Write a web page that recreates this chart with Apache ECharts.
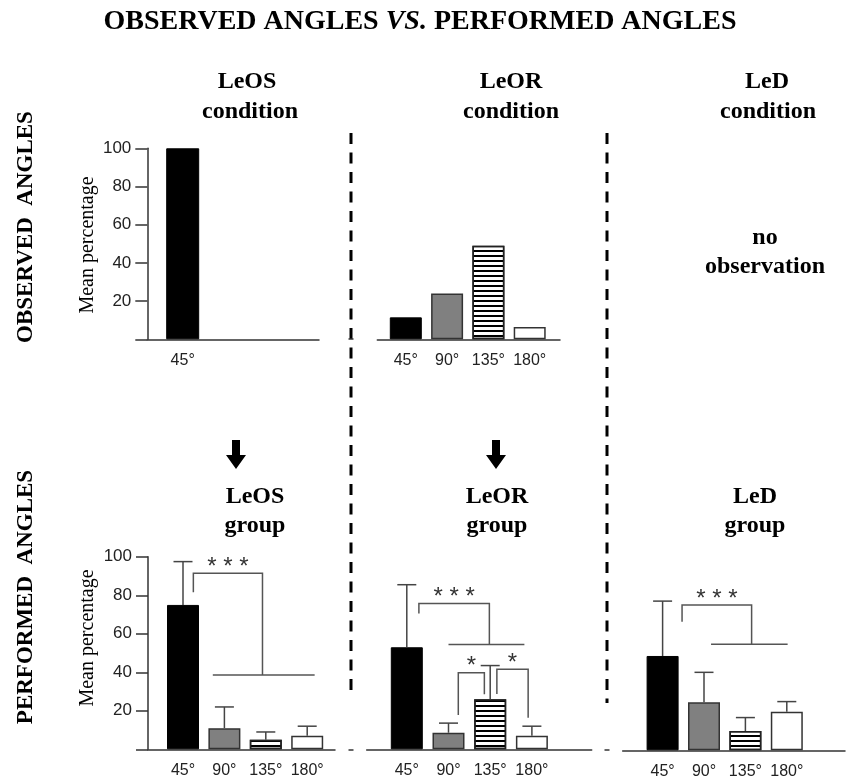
<!DOCTYPE html>
<html><head><meta charset="utf-8">
<script src="https://cdn.jsdelivr.net/npm/echarts@6/dist/echarts.min.js"></script>
<style>html,body{margin:0;padding:0;background:#fff}#c{width:846px;height:779px}</style>
</head><body><div id="c"></div><script>
// ---------- data ----------
const categories = ['45°', '90°', '135°', '180°'];
const yTickStep = 20;
// Observed angles (mean percentage)
const obsLeOS = [100];
const obsLeOR = [11.5, 24, 49, 6.5];
// Performed angles: mean percentage and SD
const perfLeOS = [75, 11, 5, 7];
const sdLeOS   = [22.5, 11, 4, 5];
const perfLeOR = [53, 8.6, 26, 7];
const sdLeOR   = [32.5, 5, 17.5, 5];
const perfLeD  = [49, 25, 10, 20];
const sdLeD    = [28.5, 15.5, 7, 5.3];
// Significance brackets: [leftLegX, leftLegBottom, rightLegX, rightLegBottom, top, spanFrom, spanTo, label]
const sigLeOS = [[0.25, 81.6, 1.92, 38.6, 91.4, 0.72, 3.18, '* * *']];
const sigLeOR = [[0.29, 70.6, 1.98, 54.5, 75.8, 1.0, 2.82, '* * *'],
                 [1.235, 17.8, 1.86, 28.6, 39.8, null, null, '*'],
                 [2.16, 28.7, 2.91, 16.4, 41.6, null, null, '*']];
const sigLeD  = [[0.47, 66.8, 2.15, 55.1, 75.5, 1.17, 3.02, '* * *']];

// ---------- styles / layout ----------
const SERIF = '"Liberation Serif", "Times New Roman", serif';
const SANS = '"Liberation Sans", Arial, sans-serif';
const barStyles = [
  {color: '#000', borderColor: '#000', borderWidth: 1},
  {color: '#808080', borderColor: '#333', borderWidth: 1.5},
  {color: '#fff', borderColor: '#222', borderWidth: 1.5,
   decal: {symbol: 'rect', symbolSize: 1, color: '#000', dashArrayX: [1, 0], dashArrayY: [2, 3], rotation: 0}},
  {color: '#fff', borderColor: '#333', borderWidth: 1.5}
];
const panels = [
  {left: 147.3, right: 319, top: 148.3, base: 339.3, c0: 182.7, unit: 41.4, showY: true, barW: 33, values: obsLeOS},
  {left: 377.3, right: 560, top: 148.3, base: 339.3, c0: 405.8, unit: 41.3, showY: false, barW: 32, values: obsLeOR},
  {left: 148, right: 335, top: 556.8, base: 749.3, c0: 183, unit: 41.4, showY: true, barW: 32, values: perfLeOS, sd: sdLeOS, sig: sigLeOS},
  {left: 366.7, right: 591.7, top: 556.8, base: 749.3, c0: 406.8, unit: 41.7, showY: false, barW: 32, values: perfLeOR, sd: sdLeOR, sig: sigLeOR},
  {left: 622.7, right: 845, top: 557.8, base: 750.3, c0: 662.6, unit: 41.4, showY: false, barW: 32, values: perfLeD, sd: sdLeD, sig: sigLeD}
];

function txtStyle(text, size, weight, family, extra) {
  return Object.assign({text: text, fontSize: size, fontWeight: weight, fontFamily: family, fill: '#000',
    align: 'center', verticalAlign: 'middle', textAlign: 'center', textVerticalAlign: 'middle'}, extra || {});
}

function renderErr(params, api) {
  const x = api.value(0), m = api.value(1), sd = api.value(2);
  const p0 = api.coord([x, m]), p1 = api.coord([x, m + sd]);
  const half = 9.5;
  const st = {stroke: '#444', lineWidth: 1.5};
  return {type: 'group', children: [
    {type: 'line', shape: {x1: p0[0], y1: p0[1], x2: p1[0], y2: p1[1]}, style: st},
    {type: 'line', shape: {x1: p1[0] - half, y1: p1[1], x2: p1[0] + half, y2: p1[1]}, style: st}
  ]};
}
function bracketRenderer(sig) {
  return function (params, api) {
    const s = sig[params.dataIndex];
    const a = api.coord([s[0], s[1]]), at = api.coord([s[0], s[4]]);
    const bt = api.coord([s[2], s[4]]), b = api.coord([s[2], s[3]]);
    const st = {stroke: '#555', lineWidth: 1.5, fill: null};
    const ch = [{type: 'polyline', shape: {points: [a, at, bt, b]}, style: st}];
    if (s[5] != null) {
      const g1 = api.coord([s[5], s[3]]), g2 = api.coord([s[6], s[3]]);
      ch.push({type: 'line', shape: {x1: g1[0], y1: g1[1], x2: g2[0], y2: g2[1]}, style: st});
    }
    ch.push({type: 'text', style: txtStyle(s[7], 24, 'normal', SANS,
      {x: (at[0] + bt[0]) / 2, y: at[1] - 6, fill: '#333'})});
    return {type: 'group', children: ch};
  };
}

const grids = [], xAxes = [], yAxes = [], series = [];
panels.forEach(function (p, k) {
  grids.push({left: p.left, top: p.top, width: p.right - p.left, height: p.base - p.top,
    containLabel: false, outerBoundsMode: 'none'});
  const idx = p.values.map(function (v, i) { return i; });
  xAxes.push({gridIndex: k, type: 'value', min: (p.left - p.c0) / p.unit, max: (p.right - p.c0) / p.unit,
    axisLine: {show: true, onZero: false, lineStyle: {color: '#333', width: 1.5}},
    axisTick: {show: false}, splitLine: {show: false},
    axisLabel: {customValues: idx, formatter: function (v) { return categories[Math.round(v)]; },
      fontSize: 16, color: '#222', fontFamily: SANS, margin: 13}});
  yAxes.push({gridIndex: k, type: 'value', min: 0, max: 100, interval: yTickStep, show: p.showY,
    axisLine: {show: true, onZero: false, lineStyle: {color: '#333', width: 1.5}},
    axisTick: {show: true, length: 12, lineStyle: {color: '#333', width: 1.5}},
    splitLine: {show: false},
    axisLabel: {formatter: function (v) { return v === 0 ? '' : String(v); },
      fontSize: 17, color: '#222', fontFamily: SANS, margin: 16}});
  series.push({type: 'bar', xAxisIndex: k, yAxisIndex: k, barWidth: p.barW,
    data: p.values.map(function (v, i) { return {value: [i, v], itemStyle: barStyles[i]}; })});
  if (p.sd) {
    series.push({type: 'custom', xAxisIndex: k, yAxisIndex: k, renderItem: renderErr, z: 3,
      data: p.values.map(function (v, i) { return [i, v, p.sd[i]]; })});
  }
  if (p.sig) {
    series.push({type: 'custom', xAxisIndex: k, yAxisIndex: k, renderItem: bracketRenderer(p.sig), z: 3,
      data: p.sig.map(function (s) { return [s[0], s[4]]; })});
  }
});

function heading(text, x, y, size) {
  return {type: 'text', x: x, y: y, style: txtStyle(text, size || 24, 'bold', SERIF)};
}
function vtext(text, x, y, size, weight) {
  return {type: 'text', x: x, y: y, rotation: Math.PI / 2, style: txtStyle(text, size, weight, SERIF)};
}
function arrow(cx, y0) {
  return {type: 'polygon', shape: {points: [[cx - 4, y0], [cx + 4, y0], [cx + 4, y0 + 15], [cx + 10, y0 + 15],
    [cx, y0 + 29], [cx - 10, y0 + 15], [cx - 4, y0 + 15]]}, style: {fill: '#000'}};
}
function dashed(x, y1, y2) {
  return {type: 'line', shape: {x1: x, y1: y1, x2: x, y2: y2}, style: {stroke: '#000', lineWidth: 3, lineDash: [11, 8.5]}};
}
function tick(x, y) {
  return {type: 'line', shape: {x1: x - 2.5, y1: y, x2: x + 2.5, y2: y}, style: {stroke: '#333', lineWidth: 1.5}};
}

const graphics = [
  {type: 'text', x: 420, y: 22, style: txtStyle('OBSERVED ANGLES {i|VS.} PERFORMED ANGLES', 28, 'bold', SERIF,
    {rich: {i: {fontStyle: 'italic', fontWeight: 'bold', fontSize: 28, fontFamily: SERIF}}})},
  heading('LeOS', 247, 82), heading('condition', 250, 112),
  heading('LeOR', 511, 82), heading('condition', 511, 112),
  heading('LeD', 767, 82), heading('condition', 768, 112),
  heading('no', 765, 238, 24), heading('observation', 765, 267, 24),
  heading('LeOS', 255, 497), heading('group', 255, 526),
  heading('LeOR', 497, 497), heading('group', 497, 526),
  heading('LeD', 755, 497), heading('group', 755, 526),
  vtext('OBSERVED  ANGLES', 26, 227, 23, 'bold'),
  vtext('PERFORMED  ANGLES', 26, 597, 23, 'bold'),
  vtext('Mean percentage', 88, 245, 20, 'normal'),
  vtext('Mean percentage', 88, 638, 20, 'normal'),
  dashed(351, 133, 697), dashed(607, 133, 703),
  tick(351, 339), tick(351, 750), tick(607, 750),
  arrow(236, 440), arrow(496, 440)
];

const chart = echarts.init(document.getElementById('c'), null, {renderer: 'canvas'});
chart.setOption({
  animation: false,
  backgroundColor: '#fff',
  grid: grids, xAxis: xAxes, yAxis: yAxes, series: series,
  graphic: {elements: graphics}
});
</script></body></html>
